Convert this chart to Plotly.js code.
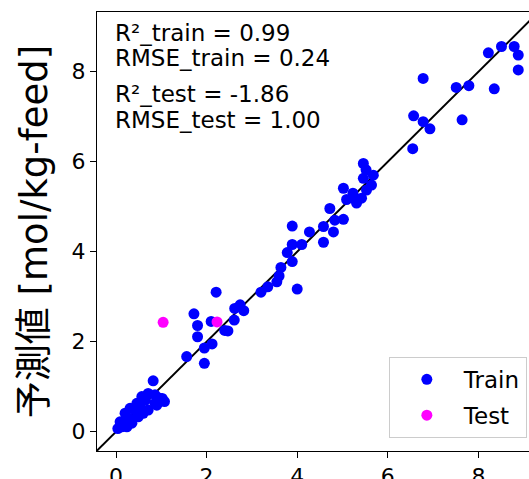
<!DOCTYPE html>
<html>
<head>
<meta charset="utf-8">
<script src="https://cdn.plot.ly/plotly-3.0.1.min.js"></script>
<style>
html,body{margin:0;padding:0;background:#fff;overflow:hidden;}
#chart{width:529px;height:479px;}
</style>
</head>
<body>
<div id="chart"></div>
<script>
// Training set: actual vs predicted
var trainActual = [
  0.04, 0.09, 0.13, 0.15, 0.20, 0.24, 0.28, 0.31, 0.35, 0.42, 0.46, 0.49, 0.53, 0.57, 0.60, 0.65,
  0.71, 0.71, 0.82, 0.86, 0.86, 0.90, 0.95, 1.02, 1.07,
  1.56, 1.72, 1.80, 1.80, 1.95, 1.95, 2.12, 2.10, 2.21, 2.40, 2.47, 2.61, 2.62, 2.74, 2.82,
  3.20, 3.35, 3.55, 3.60, 3.64, 3.78, 3.89, 3.89, 3.89, 4.10, 4.00, 4.27,
  4.58, 4.58, 4.80, 4.72, 4.83, 5.02, 5.02, 5.09, 5.24, 5.23, 5.42, 5.31,
  5.46, 5.52, 5.68, 5.46, 5.64, 5.53,
  6.55, 6.57, 6.78, 6.93, 6.78, 7.64, 7.51, 7.79, 8.35, 8.22, 8.51, 8.79, 8.88, 8.88
];
var trainPred = [
  0.07, 0.22, 0.11, 0.19, 0.41, 0.11, 0.30, 0.52, 0.19, 0.48, 0.63, 0.33, 0.55, 0.78, 0.41, 0.70,
  0.48, 0.85, 1.13, 0.63, 0.82, 0.59, 0.75, 0.74, 0.67,
  1.67, 2.62, 2.36, 2.11, 1.52, 1.86, 1.95, 2.45, 3.10, 2.25, 2.24, 2.48, 2.74, 2.82, 2.69,
  3.10, 3.22, 3.33, 3.46, 3.65, 3.98, 3.78, 4.57, 4.16, 4.16, 3.17, 4.44,
  4.56, 4.21, 4.44, 4.96, 4.70, 4.72, 5.41, 5.16, 5.19, 5.30, 5.19, 5.08,
  5.96, 5.82, 5.70, 5.63, 5.48, 5.37,
  6.29, 7.02, 6.89, 6.73, 7.85, 6.93, 7.65, 7.69, 7.62, 8.42, 8.56, 8.56, 8.37, 8.04
];
// Test set
var testActual = [1.04, 2.23];
var testPred = [2.43, 2.44];
// y = x reference line
var diagLine = [-0.5, 9.5];
// Metrics text
var metricLines = ["R²_train = 0.99", "RMSE_train = 0.24", "R²_test = -1.86", "RMSE_test = 1.00"];
var metricY = [8.85, 8.30, 7.50, 6.93];
var xTicks = [0, 2, 4, 6, 8];
var yTicks = [0, 2, 4, 6, 8];

var fontFam = "DejaVu Sans, Noto Sans CJK JP, sans-serif";

var traces = [
  {x: diagLine, y: diagLine, mode: 'lines', line: {color: '#000', width: 2}, showlegend: false, hoverinfo: 'skip'},
  {x: trainActual, y: trainPred, mode: 'markers', name: 'Train', legendgroup: 'a',
   marker: {color: '#0000ff', size: 11, line: {width: 0}}},
  {x: testActual, y: testPred, mode: 'markers', name: 'Test', legendgroup: 'b',
   marker: {color: '#ff00ff', size: 11, line: {width: 0}}}
];

var annotations = metricLines.map(function (t, i) {
  return {x: -0.07, y: metricY[i], xref: 'x', yref: 'y', text: t, showarrow: false,
    xanchor: 'left', yanchor: 'middle', font: {family: fontFam, size: 23, color: '#000'}};
});

var layout = {
  width: 529, height: 479,
  margin: {l: 97, r: 0, t: 12, b: 28, pad: 0},
  paper_bgcolor: '#fff', plot_bgcolor: '#fff',
  showlegend: true,
  legend: {x: 0.995, y: 0.03, xanchor: 'right', yanchor: 'bottom',
    bgcolor: 'rgba(255,255,255,0.8)', bordercolor: '#cccccc', borderwidth: 1,
    font: {family: fontFam, size: 23, color: '#000'}, itemwidth: 64,
    traceorder: 'grouped', tracegroupgap: 3},
  xaxis: {range: [-0.42, 9.117], tickvals: xTicks, ticktext: xTicks.map(String),
    showgrid: false, zeroline: false, showline: true, linecolor: '#000', linewidth: 1, mirror: true,
    ticks: 'outside', ticklen: 6, tickcolor: '#000', tickwidth: 1,
    tickfont: {family: fontFam, size: 22, color: '#000'}},
  yaxis: {range: [-0.429, 9.327], tickvals: yTicks, ticktext: yTicks.map(String),
    showgrid: false, zeroline: false, showline: true, linecolor: '#000', linewidth: 1,
    ticks: 'outside', ticklen: 6, tickcolor: '#000', tickwidth: 1,
    tickfont: {family: fontFam, size: 22, color: '#000'},
    title: {text: '予測値 [mol/kg-feed]', font: {family: fontFam, size: 37, color: '#000'}, standoff: 12}},
  annotations: annotations
};

Plotly.newPlot('chart', traces, layout, {staticPlot: true, displayModeBar: false});
</script>
</body>
</html>
